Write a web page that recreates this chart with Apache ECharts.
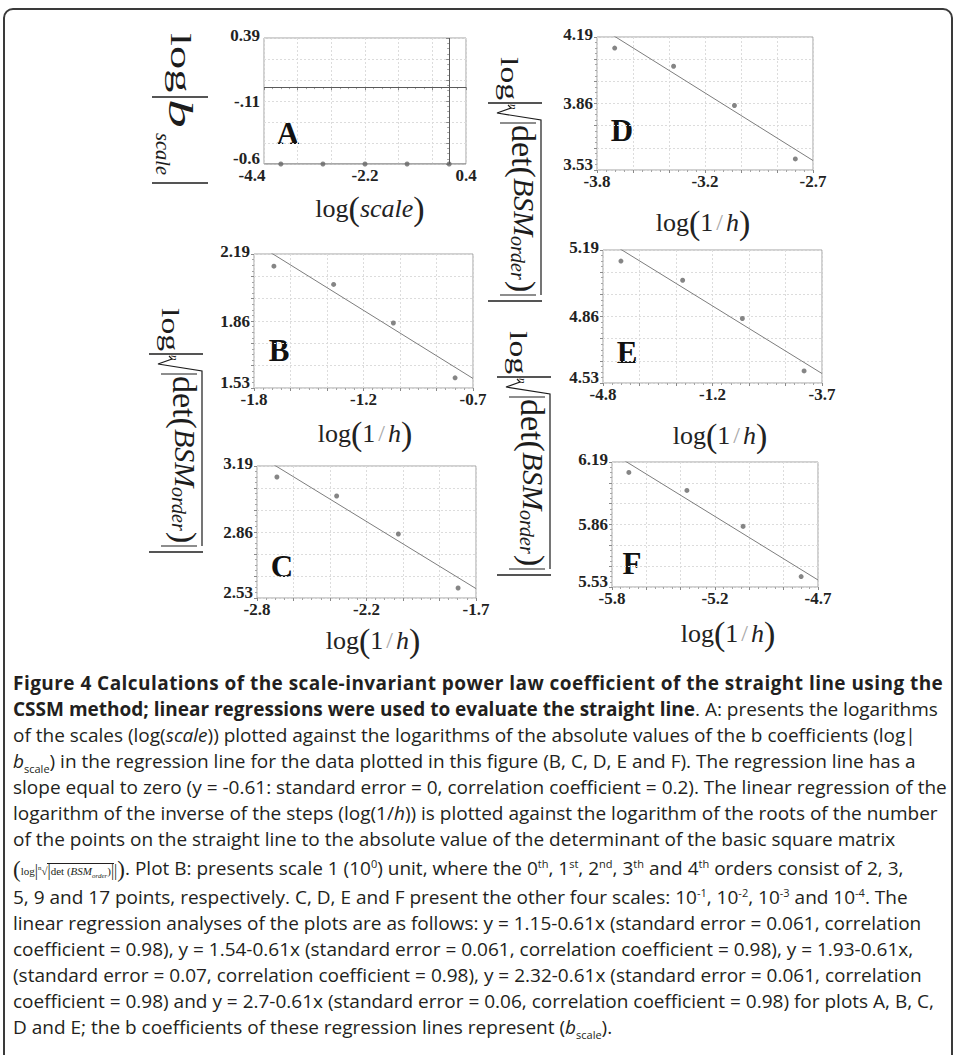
<!DOCTYPE html>
<html>
<head>
<meta charset="utf-8">
<title>Figure 4</title>
<script src="https://cdn.jsdelivr.net/npm/echarts@6/dist/echarts.min.js"></script>
<style>
  html, body { margin: 0; padding: 0; width: 956px; height: 1055px; overflow: hidden; background: #fff; }
  #frame { position: absolute; left: 3px; top: 8px; width: 950px; height: 1090px; box-sizing: border-box;
           border: 2px solid #3a3a3a; border-radius: 10px 10px 0 0; }
  #chart { position: absolute; left: 0; top: 0; width: 956px; height: 670px; }
  #caption { position: absolute; left: 0; top: 0; width: 956px; font-family: "Open Sans", sans-serif;
             font-size: 19px; color: #231f20; }
  .ln { position: absolute; left: 13px; white-space: nowrap; line-height: 22px; height: 22px; }
  .ln.t b { letter-spacing: 0.45px; }
  .ln sup, .ln sub { font-size: 11px; line-height: 0; }
  .fml { font-family: "Liberation Serif", serif; font-size: 11px; }
  .fml .bp { font-size: 23px; font-weight: 300; vertical-align: -2px; }
  .fml .vb { font-size: 16px; vertical-align: -1px; }
  .fml .ov { border-top: 1px solid #231f20; padding-top: 1px; }
  .fml sup { font-size: 7px; }
  .fml sub { font-size: 7px; }
</style>
</head>
<body>
<div id="frame"></div>
<div id="chart"></div>
<div id="caption">
  <div class="ln t" style="top:672px"><b>Figure 4 Calculations of the scale-invariant power law coefficient of the straight line using the</b></div>
  <div class="ln" style="top:698px"><b>CSSM method; linear regressions were used to evaluate the straight line</b>. A: presents the logarithms</div>
  <div class="ln" style="top:724px">of the scales (log(<i>scale</i>)) plotted against the logarithms of the absolute values of the b coefficients (log|</div>
  <div class="ln" style="top:750px"><i>b</i><sub>scale</sub>) in the regression line for the data plotted in this figure (B, C, D, E and F). The regression line has a</div>
  <div class="ln" style="top:776px">slope equal to zero (y = -0.61: standard error = 0, correlation coefficient = 0.2). The linear regression of the</div>
  <div class="ln" style="top:802px">logarithm of the inverse of the steps (log(1/<i>h</i>)) is plotted against the logarithm of the roots of the number</div>
  <div class="ln" style="top:828px">of the points on the straight line to the absolute value of the determinant of the basic square matrix</div>
  <div class="ln" style="top:857px"><span class="fml"><span class="bp">(</span>log<span class="vb">|</span><sup>n</sup>√<span class="ov"><span class="vb">|</span>det (<i>BSM</i><sub><i>order</i></sub>)<span class="vb">|</span></span><span class="vb">|</span><span class="bp">)</span></span>. Plot B: presents scale 1 (10<sup>0</sup>) unit, where the 0<sup>th</sup>, 1<sup>st</sup>, 2<sup>nd</sup>, 3<sup>th</sup> and 4<sup>th</sup> orders consist of 2, 3,</div>
  <div class="ln" style="top:886px">5, 9 and 17 points, respectively. C, D, E and F present the other four scales: 10<sup>-1</sup>, 10<sup>-2</sup>, 10<sup>-3</sup> and 10<sup>-4</sup>. The</div>
  <div class="ln" style="top:912px">linear regression analyses of the plots are as follows: y = 1.15-0.61x (standard error = 0.061, correlation</div>
  <div class="ln" style="top:938px">coefficient = 0.98), y = 1.54-0.61x (standard error = 0.061, correlation coefficient = 0.98), y = 1.93-0.61x,</div>
  <div class="ln" style="top:964px">(standard error = 0.07, correlation coefficient = 0.98), y = 2.32-0.61x (standard error = 0.061, correlation</div>
  <div class="ln" style="top:990px">coefficient = 0.98) and y = 2.7-0.61x (standard error = 0.06, correlation coefficient = 0.98) for plots A, B, C,</div>
  <div class="ln" style="top:1016px">D and E; the b coefficients of these regression lines represent (<i>b</i><sub>scale</sub>).</div>
</div>
<script>
// ---- data -------------------------------------------------------------
const panelNames = ['A', 'B', 'C', 'D', 'E', 'F'];

// A: log(scale) against log|b_scale|
const xA = [-4, -3, -2, -1, 0];
const yA = [-0.61, -0.61, -0.61, -0.61, -0.61];
// B-F: log(1/h) against log|nth-root(det(BSM_order))|
const xB = [-1.70, -1.40, -1.10, -0.79];
const yB = [2.13, 2.04, 1.85, 1.58];
const xC = [-2.70, -2.40, -2.09, -1.79];
const yC = [3.135, 3.04, 2.85, 2.58];
const xD = [-3.71, -3.41, -3.10, -2.79];
const yD = [4.135, 4.045, 3.85, 3.585];
const xE = [-4.71, -4.40, -4.10, -3.79];
const yE = [5.135, 5.04, 4.85, 4.59];
const xF = [-5.71, -5.40, -5.10, -4.79];
const yF = [6.135, 6.04, 5.85, 5.585];

// regression lines y = intercept + slope * x
const intercepts = [-0.61, 1.15, 1.54, 1.93, 2.32, 2.70];
const slopes = [0, -0.61, -0.61, -0.61, -0.61, -0.61];

// axis extents
const xMin = [-4.4, -1.8, -2.8, -3.8, -4.8, -5.8];
const xMax = [0.4, -0.7, -1.7, -2.7, -3.7, -4.7];
const yMin = [-0.61, 1.53, 2.53, 3.53, 4.53, 5.53];
const yMax = [0.39, 2.19, 3.19, 4.19, 5.19, 6.19];

// tick labels at min, middle, max
const xTickLabels = [
  ['-4.4', '-2.2', '0.4'],
  ['-1.8', '-1.2', '-0.7'],
  ['-2.8', '-2.2', '-1.7'],
  ['-3.8', '-3.2', '-2.7'],
  ['-4.8', '-1.2', '-3.7'],
  ['-5.8', '-5.2', '-4.7']
];
const yTickLabels = [
  ['-0.6', '-.11', '0.39'],
  ['1.53', '1.86', '2.19'],
  ['2.53', '2.86', '3.19'],
  ['3.53', '3.86', '4.19'],
  ['4.53', '4.86', '5.19'],
  ['5.53', '5.86', '6.19']
];

const xs = [xA, xB, xC, xD, xE, xF];
const ys = [yA, yB, yC, yD, yE, yF];

// ---- layout -----------------------------------------------------------
const SERIF = '"Liberation Serif", "Times New Roman", serif';
const INK = '#1c1c1c';

const rects = [
  { left: 264, top: 38,  width: 202, height: 126 },
  { left: 254, top: 254, width: 219, height: 134 },
  { left: 257, top: 466, width: 219, height: 132 },
  { left: 597, top: 37,  width: 216, height: 133 },
  { left: 603, top: 250, width: 219, height: 133 },
  { left: 612, top: 462, width: 206, height: 125 }
];
const letterPos = [[288, 133], [279, 350], [282, 566], [622, 130], [627, 352], [632, 563]];
const xNamePos = [[370, 208], [365, 433], [373, 640], [703, 222], [720, 435], [728, 633]];

const tickFont = { fontFamily: SERIF, fontWeight: 'bold', fontSize: 17, color: '#222' };

// label slots: lo / mid / hi, with small nudges for the corner labels
function labelRich(isY, shiftMinLeft) {
  const base = Object.assign({}, tickFont);
  if (isY) {
    return {
      lo: Object.assign({ padding: [0, 0, 11, 0] }, base),
      mid: Object.assign({}, base),
      hi: Object.assign({ padding: [0, 0, 6, 0] }, base)
    };
  }
  return {
    lo: Object.assign({ padding: [0, shiftMinLeft ? 24 : 0, 0, 0] }, base),
    mid: Object.assign({}, base),
    hi: Object.assign({}, base)
  };
}

function pickLabel(list, lo, hi) {
  const vals = [lo, (lo + hi) / 2, hi];
  const keys = ['lo', 'mid', 'hi'];
  return function (v) {
    let best = 0;
    for (let k = 1; k < 3; k++) if (Math.abs(vals[k] - v) < Math.abs(vals[best] - v)) best = k;
    return '{' + keys[best] + '|' + list[best] + '}';
  };
}

function axisCommon(i, lo, hi, labels, margin, isY) {
  return {
    type: 'value', gridIndex: i, min: lo, max: hi, interval: (hi - lo) / 6,
    axisLine: { show: false },
    axisTick: { show: true, inside: false, length: 3, lineStyle: { color: '#8a8a8a', width: 1 } },
    minorTick: { show: true, splitNumber: 4, length: 2, lineStyle: { color: '#a5a5a5', width: 1 } },
    splitLine: { show: true, lineStyle: { color: '#dcdcdc', width: 1, type: [2, 2] } },
    minorSplitLine: { show: false },
    axisLabel: Object.assign({
      show: true, margin: margin,
      customValues: [lo, (lo + hi) / 2, hi],
      formatter: pickLabel(labels, lo, hi),
      rich: labelRich(isY, !isY && i === 0)
    }, tickFont)
  };
}

const grids = [], xAxes = [], yAxes = [], series = [];
for (let i = 0; i < 6; i++) {
  grids.push(Object.assign({
    show: true, borderColor: '#a2a2a2', borderWidth: 1, backgroundColor: 'transparent',
    containLabel: false, outerBoundsMode: 'none'
  }, rects[i]));
  xAxes.push(axisCommon(i, xMin[i], xMax[i], xTickLabels[i], 3, false));
  yAxes.push(axisCommon(i, yMin[i], yMax[i], yTickLabels[i], 4, true));

  const pts = xs[i].map((x, k) => [x, ys[i][k]]);
  const fit = [xMin[i], xMax[i]].map(x => [x, intercepts[i] + slopes[i] * x]);

  series.push({
    type: 'line', name: panelNames[i] + ' fit', xAxisIndex: i, yAxisIndex: i,
    data: fit, showSymbol: false, symbol: 'none', clip: true, silent: true,
    lineStyle: { color: '#7d7d7d', width: 1 }, z: 3
  });
  const sc = {
    type: 'scatter', name: panelNames[i], xAxisIndex: i, yAxisIndex: i,
    data: pts, symbol: 'circle', symbolSize: 5, silent: true,
    itemStyle: { color: '#666' }, z: 4
  };
  if (i === 0) {
    // coordinate axes through the origin
    sc.markLine = {
      silent: true, symbol: ['none', 'none'], label: { show: false },
      lineStyle: { type: 'solid', color: '#5a5a5a', width: 1 },
      data: [{ xAxis: 0 }, { yAxis: 0 }]
    };
  }
  series.push(sc);
}

// ---- text decorations --------------------------------------------------
const graphics = [];
panelNames.forEach((n, i) => {
  graphics.push({
    type: 'text', x: letterPos[i][0], y: letterPos[i][1], silent: true,
    style: { text: n, font: 'bold 31px ' + SERIF, fill: '#111', align: 'center', verticalAlign: 'middle' }
  });
});

const nameRich = {
  a: { font: '26px ' + SERIF, fill: '#222', verticalAlign: 'middle' },
  i: { font: 'italic 26px ' + SERIF, fill: '#222', verticalAlign: 'middle' },
  p: { font: '34px ' + SERIF, fill: '#222', verticalAlign: 'middle' },
  s: { font: '24px ' + SERIF, fill: '#a8a8a8', padding: [0, 3], verticalAlign: 'middle' }
};
xNamePos.forEach((p, i) => {
  const txt = i === 0 ? '{a|log}{p|(}{i|scale}{p|)}' : '{a|log}{p|(}{a|1}{s|/}{i|h}{p|)}';
  graphics.push({
    type: 'text', x: p[0], y: p[1], silent: true,
    style: { text: txt, rich: nameRich, align: 'center', verticalAlign: 'middle' }
  });
});

function tx(lx, ly, text, font, sx) {
  return { type: 'text', x: lx, y: ly, scaleX: sx || 1, silent: true,
           style: { text: text, font: font, fill: INK, align: 'left', verticalAlign: 'middle' } };
}
function bar(lx, a, b, w) {
  return { type: 'line', silent: true, shape: { x1: lx, y1: a, x2: lx, y2: b },
           style: { stroke: INK, lineWidth: w || 1.4 } };
}

// log|b_scale| written top to bottom
function bScaleTitle(x0, y0) {
  return {
    type: 'group', x: x0, y: y0, rotation: -Math.PI / 2, silent: true,
    children: [
      tx(0, -1, 'log', '30px ' + SERIF, 1.55),
      bar(64, -28, 28),
      tx(66, 0, 'b', 'italic 34px ' + SERIF, 1.7),
      tx(100, 17, 'scale', 'italic 22px ' + SERIF, 0.93),
      bar(150, -28, 28)
    ]
  };
}

// log| n-th root |det(BSM_order)| | written top to bottom
function bsmTitle(x0, y0) {
  return {
    type: 'group', x: x0, y: y0, rotation: -Math.PI / 2, silent: true,
    children: [
      tx(0, 5, 'log', '26px ' + SERIF, 1.3),
      bar(46, -27, 27),
      tx(47, 1, 'n', 'italic 11px ' + SERIF),
      { type: 'polyline', silent: true,
        shape: { points: [[48, 7], [51, 4], [56, 18], [63, -26], [238, -26]] },
        style: { stroke: INK, fill: 'none', lineWidth: 1.2 } },
      bar(66, -21, 15, 1.2),
      tx(68, -8, 'det(', '34px ' + SERIF),
      tx(121, -9, 'BSM', 'italic 30px ' + SERIF),
      tx(179, -3, 'order', 'italic 20px ' + SERIF),
      tx(224, -8, ')', '34px ' + SERIF),
      bar(238, -21, 15, 1.2),
      bar(244, -27, 27)
    ]
  };
}

graphics.push(bScaleTitle(180, 33));
graphics.push(bsmTitle(176, 308));
graphics.push(bsmTitle(515, 57));
graphics.push(bsmTitle(524, 331));

const chart = echarts.init(document.getElementById('chart'), null, { renderer: 'svg' });
chart.setOption({
  animation: false,
  backgroundColor: 'transparent',
  grid: grids,
  xAxis: xAxes,
  yAxis: yAxes,
  series: series,
  graphic: graphics
});
</script>
</body>
</html>
